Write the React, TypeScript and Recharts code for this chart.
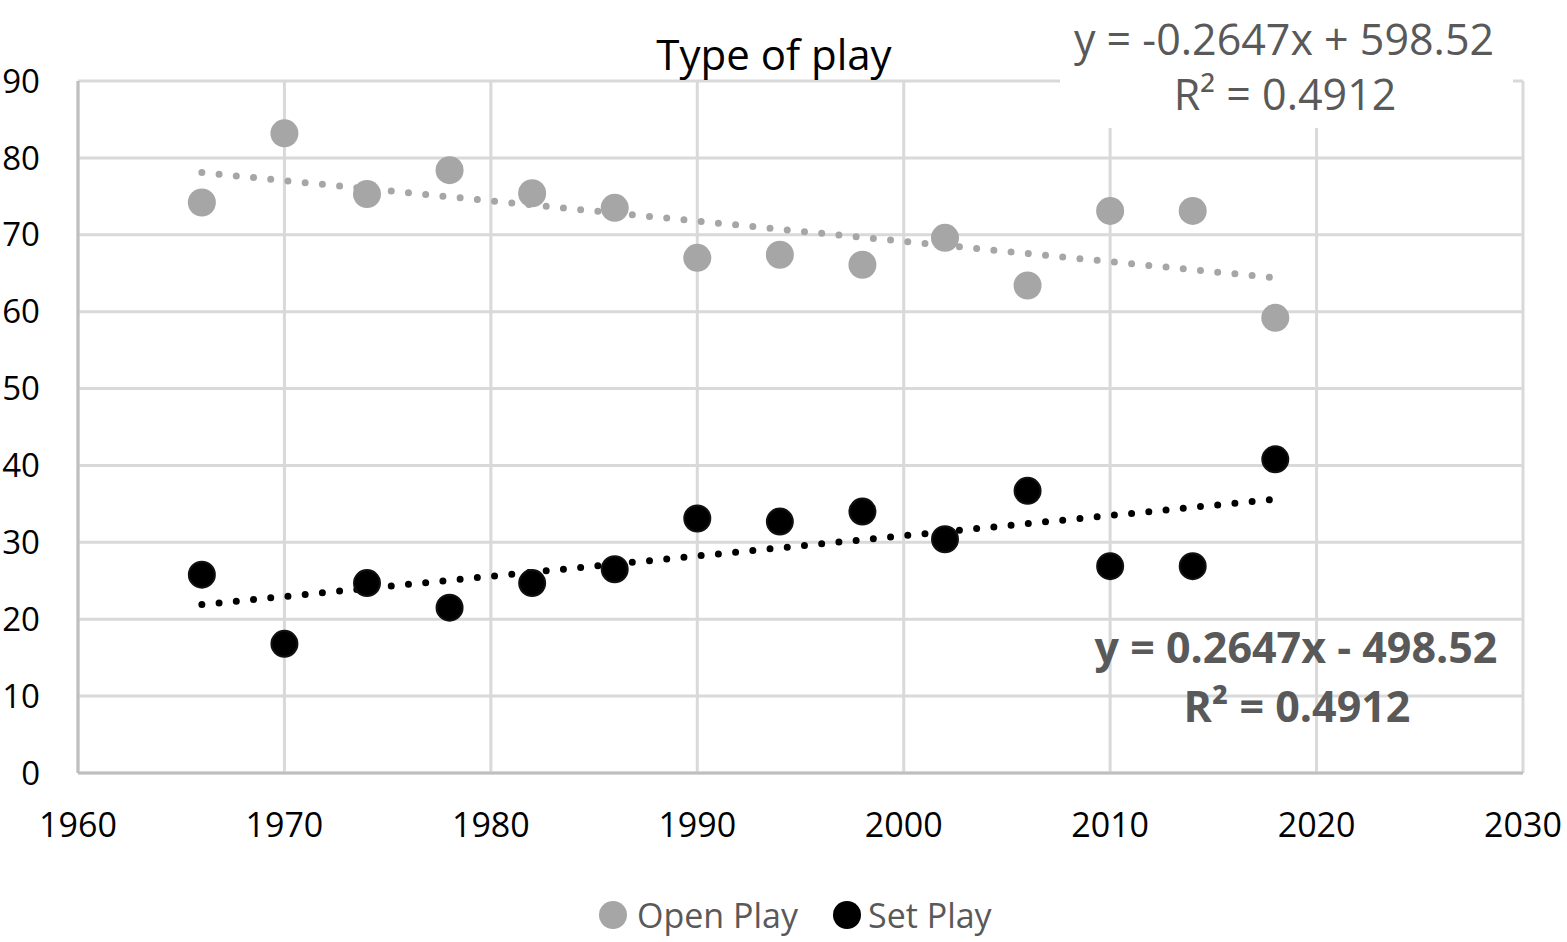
import React from 'react';
import { ComposedChart, Scatter, XAxis, YAxis, CartesianGrid, Legend } from 'recharts';

const years = [1966, 1970, 1974, 1978, 1982, 1986, 1990, 1994, 1998, 2002, 2006, 2010, 2014, 2018];
const openPlay = [74.2, 83.2, 75.3, 78.4, 75.4, 73.5, 67.0, 67.4, 66.1, 69.6, 63.4, 73.1, 73.1, 59.2];
const setPlay = [25.8, 16.8, 24.7, 21.5, 24.7, 26.5, 33.1, 32.7, 34.0, 30.4, 36.7, 26.9, 26.9, 40.8];
const trendYears = [1966, 2018];
const openTrend = [78.1, 64.4];
const setTrend = [21.9, 35.6];
const xTicks = [1960, 1970, 1980, 1990, 2000, 2010, 2020, 2030];
const yTicks = [0, 10, 20, 30, 40, 50, 60, 70, 80, 90];

const openData = years.map((x, i) => ({ x, y: openPlay[i] }));
const setData = years.map((x, i) => ({ x, y: setPlay[i] }));
const openTrendData = trendYears.map((x, i) => ({ x, y: openTrend[i] }));
const setTrendData = trendYears.map((x, i) => ({ x, y: setTrend[i] }));

const FONT = '"Open Sans", "DejaVu Sans", sans-serif';
const GRAY = '#a6a6a6';
const TEXT_GRAY = '#595959';

const OpenDot = (p: any) => <circle cx={p.cx} cy={p.cy} r={14} fill={GRAY} />;
const SetDot = (p: any) => <circle cx={p.cx} cy={p.cy} r={13} fill="#000" stroke="#111" strokeWidth={2} />;
const NoDot = () => <g />;

const LegendContent = () => (
  <div style={{ display: 'flex', alignItems: 'center', fontFamily: FONT, fontSize: 34, color: TEXT_GRAY, lineHeight: '40px', height: 40, whiteSpace: 'nowrap' }}>
    <span style={{ display: 'inline-block', width: 28, height: 28, borderRadius: 14, background: GRAY, marginRight: 10 }} />
    <span>Open Play</span>
    <span style={{ display: 'inline-block', width: 28, height: 28, borderRadius: 14, background: '#000', marginLeft: 35, marginRight: 7 }} />
    <span>Set Play</span>
  </div>
);

export default function App() {
  return (
    <div style={{ position: 'absolute', left: 0, top: 0, width: 1567, height: 942, background: '#fff', fontFamily: FONT }}>
      <ComposedChart width={1567} height={942} margin={{ top: 81, right: 44, bottom: 89, left: 0 }}>
        <CartesianGrid stroke="#d9d9d9" strokeWidth={3} />
        <rect x={1060} y={0} width={453} height={128} fill="#fff" />
        <XAxis
          dataKey="x"
          type="number"
          domain={[1960, 2030]}
          ticks={xTicks}
          height={80}
          tickSize={0}
          tickMargin={40}
          axisLine={{ stroke: '#bfbfbf', strokeWidth: 3 }}
          tick={{ fill: '#000', fontSize: 34, fontFamily: FONT }}
          allowDataOverflow
        />
        <YAxis
          dataKey="y"
          type="number"
          domain={[0, 90]}
          ticks={yTicks}
          width={78}
          tickSize={0}
          tickMargin={38}
          axisLine={{ stroke: '#bfbfbf', strokeWidth: 3 }}
          tick={{ fill: '#000', fontSize: 33, fontFamily: FONT }}
          allowDataOverflow
        />
        <Scatter
          data={openTrendData}
          shape={NoDot}
          line={{ stroke: GRAY, strokeWidth: 7, strokeDasharray: '0 17.3', strokeLinecap: 'round' }}
          isAnimationActive={false}
          legendType="none"
        />
        <Scatter
          data={setTrendData}
          shape={NoDot}
          line={{ stroke: '#000', strokeWidth: 7, strokeDasharray: '0 17.3', strokeLinecap: 'round' }}
          isAnimationActive={false}
          legendType="none"
        />
        <Scatter name="Open Play" data={openData} shape={OpenDot} fill={GRAY} isAnimationActive={false} />
        <Scatter name="Set Play" data={setData} shape={SetDot} fill="#000" isAnimationActive={false} />
        <Legend
          content={LegendContent}
          layout="horizontal"
          verticalAlign="middle"
          align="center"
          wrapperStyle={{ top: 895, left: 599, width: 'auto' }}
        />
        <text x={774} y={70} textAnchor="middle" fontSize={42} fill="#000" fontFamily={FONT}>Type of play</text>
        <text x={1284} y={55} textAnchor="middle" fontSize={43} fill={TEXT_GRAY} fontFamily={FONT}>y = -0.2647x + 598.52</text>
        <text x={1285} y={110} textAnchor="middle" fontSize={43} fill={TEXT_GRAY} fontFamily={FONT}>R² = 0.4912</text>
        <text x={1296} y={663} textAnchor="middle" fontSize={43} fontWeight="bold" fill={TEXT_GRAY} fontFamily={FONT}>y = 0.2647x - 498.52</text>
        <text x={1297} y={722} textAnchor="middle" fontSize={43} fontWeight="bold" fill={TEXT_GRAY} fontFamily={FONT}>R² = 0.4912</text>
      </ComposedChart>
    </div>
  );
}
